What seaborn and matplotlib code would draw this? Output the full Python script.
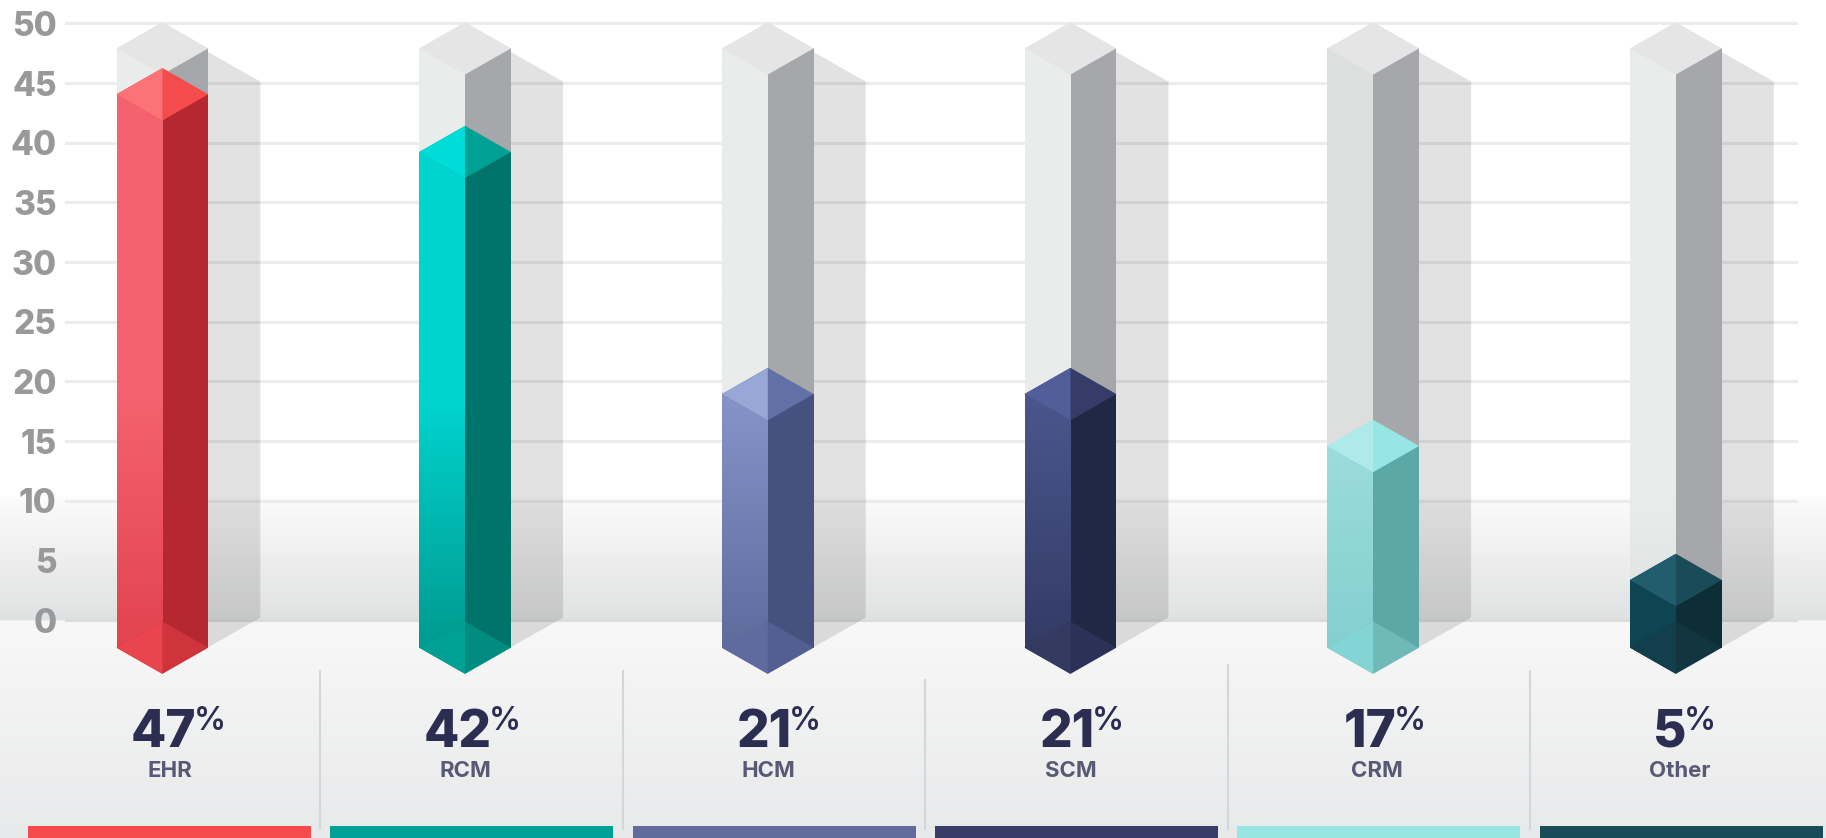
import numpy as np
import pandas as pd
import matplotlib
matplotlib.use("Agg")
import matplotlib.pyplot as plt
from matplotlib.colors import to_rgb
import seaborn as sns

categories = ["EHR", "RCM", "HCM", "SCM", "CRM", "Other"]
percents = [47, 42, 21, 21, 17, 5]
bar_levels = [44.06, 39.22, 18.94, 18.94, 14.59, 3.36]
column_level = 47.91
base_level = -2.31
yticks = list(range(0, 55, 5))

left_top = ["#f3626e", "#00d4cf", "#8494c9", "#4a568c", "#9cdcdc", "#0f4552"]
left_bot = ["#e2434f", "#009a8f", "#5e6c9c", "#333b66", "#84cfd0", "#0f4552"]
right_face = ["#b5282f", "#00736a", "#45527f", "#212845", "#5ca8a6", "#0d2e36"]
top_l = ["#fb7376", "#00dcd8", "#98a8d6", "#525e9a", "#aeeaea", "#215d6c"]
top_r = ["#f44b4d", "#00a095", "#6270a8", "#363c68", "#97e6e5", "#1a4b58"]
bot_l = ["#ea454e", "#00a095", "#5f6b9f", "#323a60", "#83d5d5", "#133f4d"]
bot_r = ["#cf333b", "#008c80", "#535f92", "#2b3258", "#6fb9b8", "#123540"]
swatch = ["#f44b4c", "#00a096", "#626c9c", "#383d68", "#97e6e3", "#1a4b58"]
col_left = ["#eaecec", "#eaecec", "#eaecec", "#eaecec", "#dddfdf", "#eaecec"]
col_left_low = "#dfe1e2"

number_dx = [33.5, 26.7, 23.9, 24.0, 23.3, 10.5]
label_dx = [7.5, 0.5, 0.5, 0.5, 3.5, 4.0]
divider_top = [670, 670, 679, 664, 670]

W, H = 1826, 838
sns.set_style("white")
plt.rcParams["font.family"] = ["Inter", "Open Sans", "DejaVu Sans"]
fig = plt.figure(figsize=(W / 100, H / 100), dpi=100, facecolor="white")

# ---- background
bg = fig.add_axes([0, 0, 1, 1], zorder=0)
bg.set_xlim(0, W)
bg.set_ylim(H, 0)
bg.axis("off")
yy = np.arange(H) + 0.5
stops = [0, 495, 500, 620, 620.9, 838]
cols = np.array([to_rgb(c) for c in ["#ffffff", "#ffffff", "#fbfbfb", "#e0e1e2", "#f8f8f8", "#e8e9ea"]])
grad = np.stack([np.interp(yy, stops, cols[:, k]) for k in range(3)], axis=1)[:, None, :]
bg.imshow(grad, extent=(0, W, H, 0), aspect="auto", interpolation="nearest")
for i, c in enumerate(swatch):
    bg.fill_between([28 + 302.3 * i, 311 + 302.3 * i], 825.5, H, color=c, lw=0)
for i, t in enumerate(divider_top):
    bg.plot([320 + 302.5 * i] * 2, [t, 830], color="#d5d6d7", lw=1.5, solid_capstyle="butt")

# ---- main axes
ax = fig.add_axes([65 / W, 0, (1798 - 65) / W, 1], zorder=1, facecolor="none")
px_per_i = 302.7
px_per_v = 11.934
x0, y0 = 162.4, 620.1
xlim = ((65 - x0) / px_per_i, (1798 - x0) / px_per_i)
ylim = ((y0 - 838) / px_per_v, y0 / px_per_v)

hw = 45.9 / px_per_i
hh = 26.2 / px_per_v
wall_dx = 52 / px_per_i
wall_dy = 30 / px_per_v
wall_drop = 3.2 / px_per_v
bar_width = 2 * hw
fade_from = 18.5

n = len(categories)
df_col = pd.DataFrame({
    "category": categories * 2,
    "height": [column_level - base_level] * (2 * n),
    "face": ["left"] * n + ["right"] * n,
})
df_bar = pd.DataFrame({
    "category": categories * 2,
    "height": [v - base_level for v in bar_levels] * 2,
    "face": ["left"] * n + ["right"] * n,
})
common = dict(x="category", y="height", hue="face", width=bar_width, gap=0, dodge=True,
              legend=False, bottom=base_level, ax=ax, saturation=1,
              palette={"left": "#888888", "right": "#444444"}, linewidth=0)
sns.barplot(data=df_col, **common)
sns.barplot(data=df_bar, **common)

conts = ax.containers
for i, p in enumerate(conts[0]):
    p.set(facecolor=col_left[i], zorder=2)
for p in conts[1]:
    p.set(facecolor="#a6a7ab", zorder=2)
for i, p in enumerate(conts[2]):
    p.set(facecolor=left_top[i], zorder=3)
for i, p in enumerate(conts[3]):
    p.set(facecolor=right_face[i], zorder=3)


def vgrad(top, bot, v_top, v_hold, v_bot, rows=200):
    """Vertical colour ramp: holds `top` down to v_hold, then fades to `bot` at v_bot."""
    vv = np.linspace(v_top, v_bot, rows)
    t = np.clip((v_hold - vv) / (v_hold - v_bot), 0, 1)[:, None, None]
    return np.array(to_rgb(top))[None, None, :] * (1 - t) + np.array(to_rgb(bot))[None, None, :] * t


def rhomb(i, level, left_colour, right_colour, z):
    # full rhombus in the right colour first, so that no seam shows at the centre line
    ax.fill([i - hw, i, i + hw, i], [level, level + hh, level, level - hh], color=right_colour, lw=0, zorder=z)
    ax.fill([i - hw, i, i], [level, level + hh, level - hh], color=left_colour, lw=0, zorder=z + 0.01)


for i in range(n):
    v = bar_levels[i]
    # shadow wall behind the column
    ax.fill([i + hw - 1 / px_per_i, i + hw + wall_dx, i + hw + wall_dx, i + hw - 1 / px_per_i],
            [column_level - wall_drop, column_level - wall_drop - wall_dy, base_level + wall_dy, base_level],
            color="black", alpha=0.115, lw=0, zorder=1.5)
    # column left face shading and cap
    ax.imshow(vgrad(col_left[i], col_left_low, column_level, 10, 0), extent=(i - hw, i, 0, column_level),
              aspect="auto", interpolation="bilinear", zorder=2.05)
    ax.fill([i - hw, i, i + hw, i], [column_level, column_level + hh, column_level, column_level - hh],
            color="#e5e5e5", lw=0, zorder=2.2)
    # gradient on the left face of the bar
    g = vgrad(left_top[i], left_bot[i], v, min(fade_from, v), base_level)
    ax.imshow(g, extent=(i - hw, i, base_level, v), aspect="auto", interpolation="bilinear", zorder=3.05)
    # bar cap and foot
    rhomb(i, v, top_l[i], top_r[i], 3.2)
    ax.fill([i - hw, i, i + hw, i], [base_level, base_level + hh, base_level, base_level - hh],
            color=bot_r[i], lw=0, zorder=3.2)
    ax.fill([i - hw, i, i], [base_level, base_level + hh, base_level - hh], color=bot_l[i], lw=0, zorder=3.21)
    # labels
    ax.annotate(str(percents[i]), xy=(i, -10.63), xytext=(number_dx[i] * 0.72, 0), textcoords="offset points",
                ha="right", va="baseline", fontsize=37, fontweight=800, color="#2b2d51", zorder=5)
    ax.annotate("%", xy=(i, -9.21), xytext=((number_dx[i] - 2.5) * 0.72, 0), textcoords="offset points",
                ha="left", va="baseline", fontsize=23, fontweight=600, color="#2b2d51", zorder=5)
    ax.annotate(categories[i], xy=(i, -13.15), xytext=(label_dx[i] * 0.72, 0), textcoords="offset points",
                ha="center", va="baseline", fontsize=16, fontweight=700, color="#565a74", zorder=5)

ax.set_xlim(*xlim)
ax.set_ylim(*ylim)
ax.set_xticks([])
ax.set_yticks(yticks)
ax.set_xlabel("")
ax.set_ylabel("")
ax.set_axisbelow(True)
ax.grid(axis="y", color="#ececed", lw=2.2)
ax.get_ygridlines()[0].set_color("#dcdcdd")
ax.tick_params(axis="y", length=0, pad=6, labelsize=24, labelcolor="#98999b")
for t in ax.get_yticklabels():
    t.set_fontweight(800)
sns.despine(ax=ax, left=True, bottom=True)

fig.savefig("out.png", dpi=100, facecolor="white")
